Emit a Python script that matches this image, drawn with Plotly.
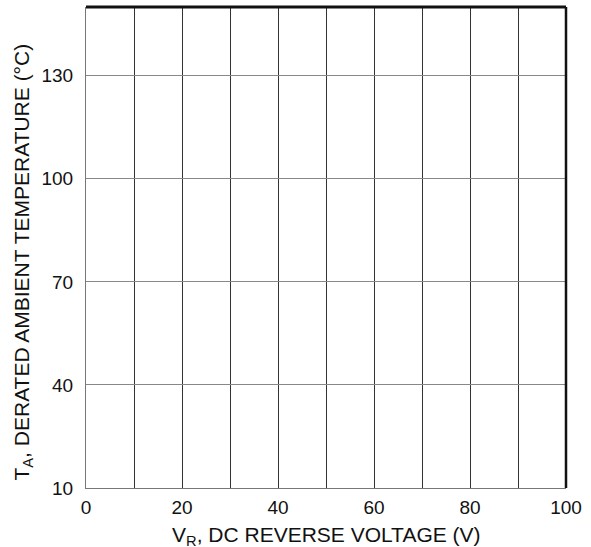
import plotly.graph_objects as go

x_ticks = [0, 20, 40, 60, 80, 100]
y_ticks = [10, 40, 70, 100, 130]
x_range = [0, 100]
y_range = [10, 150]
x_title = "V<sub>R</sub>, DC REVERSE VOLTAGE (V)"
y_title = "T<sub>A</sub>, DERATED AMBIENT TEMPERATURE (°C)"

fig = go.Figure()
fig.add_trace(go.Scatter(x=[], y=[], mode="lines", showlegend=False))

tick_font = dict(family="Liberation Sans, Arial, sans-serif", size=19, color="#111")
title_font = dict(family="Liberation Sans, Arial, sans-serif", size=21, color="#111")

fig.update_layout(
    width=591, height=547,
    margin=dict(l=86, r=25, t=7, b=59),
    paper_bgcolor="white", plot_bgcolor="white",
    font=tick_font,
    xaxis=dict(
        range=x_range, tickvals=x_ticks, showgrid=True, gridcolor="#333", gridwidth=1,
        minor=dict(dtick=10, showgrid=True, gridcolor="#333", gridwidth=1),
        showline=True, linecolor="#777", linewidth=1, zeroline=False,
        ticks="", ticklabelstandoff=2, tickfont=tick_font,
    ),
    yaxis=dict(
        range=y_range, tickvals=y_ticks, showgrid=True, gridcolor="#888", gridwidth=1,
        showline=True, linecolor="#777", linewidth=1, zeroline=False,
        ticks="", ticklabelstandoff=8, tickfont=tick_font,
    ),
    shapes=[
        dict(type="line", xref="paper", yref="paper", x0=0, x1=1, y0=1, y1=1,
             line=dict(color="#111", width=3)),
        dict(type="line", xref="paper", yref="paper", x0=1, x1=1, y0=0, y1=1,
             line=dict(color="#111", width=2.5)),
    ],
    annotations=[
        dict(text=x_title, xref="paper", yref="paper", x=0.5, y=0, xanchor="center",
             yanchor="top", yshift=-33, showarrow=False, font=title_font),
        dict(text=y_title, xref="paper", yref="paper", x=0, y=0.5, xanchor="center",
             yanchor="middle", xshift=-64, yshift=-15, textangle=-90, showarrow=False,
             font=title_font),
    ],
)

fig.write_html("out.html", config={"displayModeBar": False},
               post_script="document.body.style.margin='0';document.body.style.padding='0';")
